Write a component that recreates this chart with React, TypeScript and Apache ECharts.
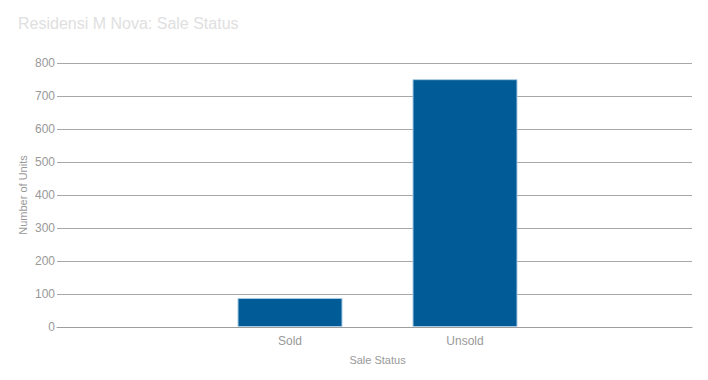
import React, { useEffect, useRef } from "react";
import * as echarts from "echarts";

const categories = ["Sold", "Unsold"];
const units = [88, 751];
const yTicks = { min: 0, max: 800, interval: 100 };
const titleText = "Residensi M Nova: Sale Status";

export default function App() {
  const ref = useRef<HTMLDivElement>(null);
  useEffect(() => {
    if (!ref.current) return;
    const chart = echarts.init(ref.current, null, { renderer: "svg" });
    const font = "Liberation Sans, Arial, sans-serif";
    chart.setOption({
      animation: false,
      title: {
        text: titleText,
        left: 13,
        top: 10,
        textStyle: { color: "#e0e0e0", fontSize: 16, fontWeight: "normal", fontFamily: font },
      },
      grid: [
        { left: 57, right: 16, top: 63, bottom: 53 },
        { left: 202.5, right: 155.5, top: 63, bottom: 53 },
      ],
      xAxis: [
        {
          gridIndex: 0,
          type: "category",
          data: ["a"],
          axisLine: { show: true, lineStyle: { color: "#9e9e9e" } },
          axisTick: { show: false },
          axisLabel: { show: false },
        },
        {
          gridIndex: 1,
          type: "category",
          data: categories,
          axisLine: { show: false },
          axisTick: { show: false },
          axisLabel: { color: "#999", fontSize: 12, fontFamily: font, margin: 8 },
          name: "Sale Status",
          nameLocation: "middle",
          nameGap: 27,
          nameTextStyle: { color: "#999", fontSize: 11, fontFamily: font },
        },
      ],
      yAxis: [
        {
          gridIndex: 0,
          type: "value",
          min: yTicks.min,
          max: yTicks.max,
          interval: yTicks.interval,
          axisLine: { show: false },
          axisTick: { show: false },
          splitLine: { lineStyle: { color: "#a8a8a8" } },
          axisLabel: { color: "#999", fontSize: 12, fontFamily: font, margin: 2 },
          name: "Number of Units",
          nameLocation: "middle",
          nameGap: 29,
          nameMoveOverlap: false,
          nameTextStyle: { color: "#999", fontSize: 11, fontFamily: font },
        },
        {
          gridIndex: 1,
          type: "value",
          min: yTicks.min,
          max: yTicks.max,
          interval: yTicks.interval,
          show: false,
          splitLine: { show: false },
        },
      ],
      series: [
        {
          type: "bar",
          xAxisIndex: 1,
          yAxisIndex: 1,
          data: units,
          barWidth: 105,
          itemStyle: { color: "#005b96", borderColor: "#a9cbe4", borderWidth: 1 },
        },
      ],
    });
    return () => chart.dispose();
  }, []);
  return <div ref={ref} style={{ width: 708, height: 380, margin: -8 }} />;
}
